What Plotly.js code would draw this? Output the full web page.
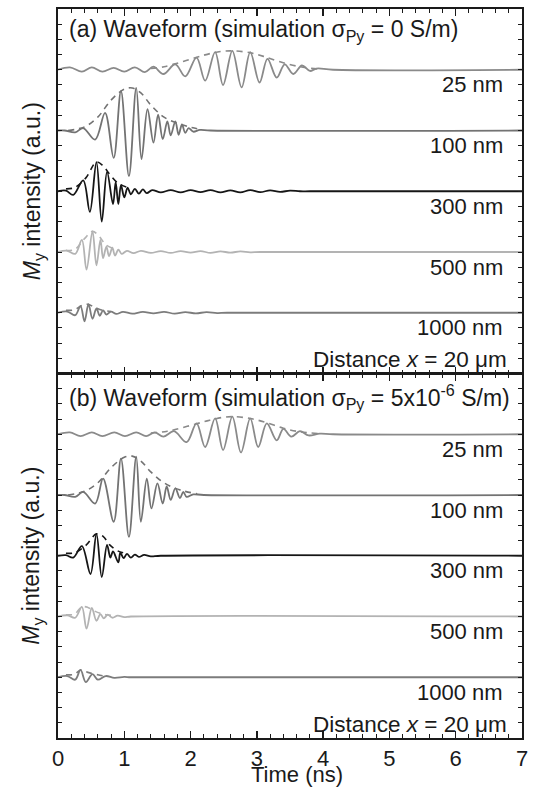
<!DOCTYPE html>
<html>
<head>
<meta charset="utf-8">
<script src="https://cdn.plot.ly/plotly-3.0.1.min.js"></script>
<style>html,body{margin:0;padding:0;background:#fff;}</style>
</head>
<body>
<div id="chart" style="width:533px;height:789px;"></div>
<script>
// ---------- data (extrema of each waveform, amplitude in a.u.) ----------
const thicknessLabels = ["25 nm", "100 nm", "300 nm", "500 nm", "1000 nm"];
const panelTitles = [
  "(a) Waveform (simulation σ<sub>Py</sub> = 0 S/m)",
  "(b) Waveform (simulation σ<sub>Py</sub> = 5x10<sup>-6</sup> S/m)"
];
const distanceLabel = "Distance <i>x</i> = 20 μm";
const xTitle = "Time (ns)";
const yTitle = "<i>M</i><sub>y</sub> intensity (a.u.)";

// panel (a)
const time25a = [0, 0.18, 0.36, 0.51, 0.67, 0.84, 1.00, 1.16, 1.31, 1.44, 1.59, 1.77, 1.92, 2.09, 2.22, 2.37, 2.49, 2.63, 2.77, 2.90, 3.04, 3.16, 3.30, 3.42, 3.55, 3.68, 3.80, 3.90, 4.15, 7];
const amp25a  = [0, 0.04, -0.03, 0.04, -0.03, 0.03, -0.03, 0.04, -0.04, 0.05, -0.07, 0.09, -0.11, 0.20, -0.18, 0.29, -0.25, 0.31, -0.29, 0.29, -0.21, 0.18, -0.13, 0.09, -0.07, 0.07, -0.02, 0.02, 0, 0];
const time100a = [0, 0.10, 0.26, 0.38, 0.56, 0.71, 0.84, 0.95, 1.07, 1.18, 1.26, 1.35, 1.44, 1.51, 1.58, 1.65, 1.70, 1.77, 1.82, 1.87, 1.92, 1.97, 2.04, 2.14, 2.30, 7];
const amp100a  = [0, 0, -0.03, 0.04, -0.15, 0.29, -0.45, 0.65, -0.75, 0.70, -0.47, 0.35, -0.20, 0.26, -0.14, 0.15, -0.08, 0.15, -0.07, 0.10, -0.04, 0.04, -0.02, 0.01, 0, 0];
const time300a = [0, 0.12, 0.23, 0.38, 0.48, 0.58, 0.66, 0.74, 0.83, 0.87, 0.91, 0.95, 1.00, 1.05, 1.10, 1.16, 1.22, 1.28, 1.34, 1.42, 1.55, 1.70, 1.85, 2.00, 2.15, 2.30, 2.45, 2.60, 2.75, 2.90, 3.05, 3.20, 3.35, 3.50, 3.65, 3.80, 7];
const amp300a  = [0, 0.01, -0.06, 0.18, -0.34, 0.48, -0.50, 0.32, -0.21, 0.15, -0.21, 0.10, -0.10, 0.06, -0.05, 0.04, -0.04, 0.03, -0.03, 0.02, -0.02, 0.02, -0.02, 0.02, -0.015, 0.02, -0.02, 0.015, -0.02, 0.02, -0.015, 0.015, -0.01, 0.01, 0, 0, 0];
const time500a = [0, 0.14, 0.26, 0.36, 0.43, 0.52, 0.58, 0.64, 0.68, 0.73, 0.77, 0.82, 0.86, 0.91, 0.96, 1.04, 1.14, 1.25, 1.40, 1.55, 1.70, 1.85, 2.00, 2.15, 2.30, 2.45, 2.60, 2.75, 2.90, 3.05, 7];
const amp500a  = [0, 0.02, -0.03, 0.20, -0.29, 0.34, -0.22, 0.20, -0.10, 0.09, -0.07, 0.07, -0.06, 0.04, -0.03, 0.02, -0.02, 0.02, -0.015, 0.015, -0.015, 0.015, -0.01, 0.015, -0.015, 0.01, -0.01, 0.01, -0.005, 0, 0];
const time1000a = [0, 0.14, 0.26, 0.34, 0.40, 0.46, 0.52, 0.58, 0.63, 0.68, 0.73, 0.80, 0.88, 0.98, 1.12, 1.28, 1.44, 1.60, 1.76, 1.92, 2.08, 2.24, 2.40, 2.55, 7];
const amp1000a  = [0, 0.02, -0.04, 0.11, -0.14, 0.14, -0.10, 0.07, -0.05, 0.04, -0.03, 0.02, -0.02, 0.015, -0.015, 0.015, -0.01, 0.015, -0.015, 0.01, -0.01, 0.01, -0.005, 0, 0];

// panel (b)
const time25b = [0, 0.18, 0.34, 0.51, 0.67, 0.85, 1.01, 1.18, 1.33, 1.46, 1.59, 1.75, 1.94, 2.09, 2.22, 2.37, 2.49, 2.63, 2.76, 2.90, 3.02, 3.15, 3.30, 3.40, 3.52, 3.65, 3.78, 3.95, 4.15, 7];
const amp25b  = [0, 0.03, -0.03, 0.03, -0.03, 0.03, -0.03, 0.03, -0.03, 0.03, -0.04, 0.05, -0.13, 0.18, -0.21, 0.26, -0.26, 0.29, -0.30, 0.26, -0.21, 0.18, -0.10, 0.09, -0.04, 0.05, -0.02, 0.01, 0, 0];
const time100b = [0, 0.10, 0.26, 0.38, 0.56, 0.68, 0.84, 0.95, 1.07, 1.18, 1.25, 1.34, 1.41, 1.50, 1.58, 1.64, 1.70, 1.77, 1.84, 1.89, 1.94, 2.04, 2.20, 7];
const amp100b  = [0, 0, -0.03, 0.05, -0.14, 0.27, -0.44, 0.60, -0.69, 0.63, -0.44, 0.27, -0.22, 0.19, -0.14, 0.14, -0.08, 0.11, -0.05, 0.05, -0.03, 0.01, 0, 0];
const time300b = [0, 0.12, 0.23, 0.36, 0.49, 0.58, 0.66, 0.74, 0.79, 0.83, 0.91, 0.94, 0.99, 1.04, 1.10, 1.16, 1.22, 1.30, 1.40, 1.55, 7];
const amp300b  = [0, 0.01, -0.03, 0.16, -0.30, 0.36, -0.35, 0.18, -0.03, 0.07, -0.11, 0.05, -0.04, 0.03, -0.03, 0.02, -0.02, 0.015, -0.01, 0, 0];
const time500b = [0, 0.14, 0.26, 0.36, 0.43, 0.51, 0.58, 0.64, 0.69, 0.75, 0.82, 0.90, 1.00, 1.10, 7];
const amp500b  = [0, 0.02, -0.02, 0.16, -0.20, 0.14, -0.07, 0.04, -0.03, 0.03, -0.02, 0.015, -0.01, 0, 0];
const time1000b = [0, 0.14, 0.26, 0.34, 0.42, 0.52, 0.60, 0.72, 0.85, 1.00, 1.10, 7];
const amp1000b  = [0, 0.02, -0.04, 0.12, -0.08, 0.05, -0.04, 0.02, -0.01, 0.005, 0, 0];

// dashed envelopes
const envTime25a = [1.40, 1.60, 1.90, 2.20, 2.45, 2.65, 2.90, 3.10, 3.35, 3.65, 3.95];
const envAmp25a  = [0.02, 0.05, 0.14, 0.24, 0.30, 0.31, 0.28, 0.22, 0.13, 0.05, 0.01];
const envTime100a = [0.15, 0.40, 0.60, 0.80, 1.00, 1.12, 1.25, 1.40, 1.60, 1.85, 2.10];
const envAmp100a  = [0.00, 0.06, 0.22, 0.50, 0.68, 0.70, 0.62, 0.42, 0.22, 0.10, 0.03];
const envTime300a = [0.12, 0.25, 0.42, 0.58, 0.68, 0.78, 0.90, 1.05];
const envAmp300a  = [0.04, 0.06, 0.22, 0.48, 0.42, 0.28, 0.14, 0.06];
const envTime500a = [0.12, 0.25, 0.40, 0.52, 0.62, 0.72, 0.85];
const envAmp500a  = [0.03, 0.04, 0.22, 0.34, 0.26, 0.12, 0.05];
const envTime1000a = [0.12, 0.25, 0.36, 0.45, 0.55, 0.68, 0.80];
const envAmp1000a  = [0.04, 0.05, 0.12, 0.14, 0.09, 0.04, 0.02];
const envTime25b = [1.40, 1.65, 1.95, 2.25, 2.50, 2.65, 2.90, 3.15, 3.40, 3.65, 3.95];
const envAmp25b  = [0.02, 0.05, 0.13, 0.22, 0.28, 0.29, 0.26, 0.19, 0.10, 0.04, 0.01];
const envTime100b = [0.15, 0.40, 0.60, 0.80, 1.00, 1.12, 1.25, 1.40, 1.60, 1.85, 2.10];
const envAmp100b  = [0.00, 0.06, 0.20, 0.45, 0.62, 0.64, 0.56, 0.38, 0.20, 0.08, 0.02];
const envTime300b = [0.12, 0.25, 0.42, 0.58, 0.68, 0.78, 0.90, 1.05];
const envAmp300b  = [0.04, 0.05, 0.17, 0.36, 0.32, 0.18, 0.08, 0.03];
const envTime500b = [0.12, 0.25, 0.36, 0.45, 0.55, 0.68, 0.80];
const envAmp500b  = [0.03, 0.04, 0.16, 0.15, 0.09, 0.04, 0.02];
const envTime1000b = [0.12, 0.25, 0.34, 0.45, 0.60, 0.75];
const envAmp1000b  = [0.04, 0.05, 0.12, 0.08, 0.04, 0.01];

// ---------- styling / placement (not data) ----------
const rowOffset = [5, 4, 3, 2, 1];              // vertical stacking of the traces
const rowColor  = ["#8a8a8a", "#737373", "#161616", "#b3b3b3", "#7c7c7c"];
const FONT = "Liberation Sans, Arial, Helvetica, sans-serif";

const panels = [
  { xa: "x2", ya: "y",
    waves: [[time25a, amp25a], [time100a, amp100a], [time300a, amp300a], [time500a, amp500a], [time1000a, amp1000a]],
    envs:  [[envTime25a, envAmp25a], [envTime100a, envAmp100a], [envTime300a, envAmp300a], [envTime500a, envAmp500a], [envTime1000a, envAmp1000a]] },
  { xa: "x", ya: "y2",
    waves: [[time25b, amp25b], [time100b, amp100b], [time300b, amp300b], [time500b, amp500b], [time1000b, amp1000b]],
    envs:  [[envTime25b, envAmp25b], [envTime100b, envAmp100b], [envTime300b, envAmp300b], [envTime500b, envAmp500b], [envTime1000b, envAmp1000b]] }
];

const traces = [];
panels.forEach(p => {
  p.envs.forEach((e, i) => {
    traces.push({
      x: e[0], y: e[1].map(v => v + rowOffset[i]), xaxis: p.xa, yaxis: p.ya,
      mode: "lines", line: { color: rowColor[i], width: 1.6, dash: "6px,5px", shape: "spline", smoothing: 1 },
      hoverinfo: "skip"
    });
  });
  p.waves.forEach((w, i) => {
    traces.push({
      x: w[0], y: w[1].map(v => v + rowOffset[i]), xaxis: p.xa, yaxis: p.ya,
      mode: "lines", line: { color: rowColor[i], width: 1.8, shape: "spline", smoothing: 1 },
      hoverinfo: "skip"
    });
  });
});

const axisCommon = {
  showline: true, linecolor: "#1a1a1a", linewidth: 1.6, mirror: "allticks",
  showgrid: false, zeroline: false, ticks: "inside", tickcolor: "#1a1a1a"
};
const xCommon = Object.assign({}, axisCommon, {
  range: [0, 7], tick0: 0, dtick: 1, ticklen: 7, tickwidth: 1.3,
  minor: { dtick: 0.2, ticks: "inside", ticklen: 4, tickwidth: 1, tickcolor: "#1a1a1a" }
});
const yCommon = Object.assign({}, axisCommon, {
  range: [0, 6], tick0: 0, dtick: 0.25, ticklen: 4, tickwidth: 1, showticklabels: false
});

const annotations = [];
[["y", 1, -21], ["y2", 0.5, -23]].forEach((a, k) => {
  annotations.push({ xref: "paper", yref: "paper", x: 0, y: a[1], xshift: 9, yshift: a[2],
    xanchor: "left", yanchor: "middle", showarrow: false, text: panelTitles[k], font: { size: 23 } });
  thicknessLabels.forEach((lab, i) => {
    annotations.push({ xref: "paper", yref: a[0], x: 1, y: rowOffset[i], xshift: -17, yshift: -15,
      xanchor: "right", yanchor: "middle", showarrow: false, text: lab, font: { size: 22 } });
  });
  annotations.push({ xref: "paper", yref: "paper", x: 1, y: a[1] === 1 ? 0.5 : 0, xshift: -13, yshift: 14,
    xanchor: "right", yanchor: "middle", showarrow: false, text: distanceLabel, font: { size: 22.5 } });
  annotations.push({ xref: "paper", yref: a[0], x: 0, y: 3, xshift: -25, yshift: 0,
    xanchor: "center", yanchor: "middle", textangle: -90, showarrow: false, text: yTitle, font: { size: 23 } });
});
annotations.push({ xref: "paper", yref: "paper", x: 0.5, y: 0, xshift: 7, yshift: -50,
  xanchor: "center", yanchor: "bottom", borderpad: 0, showarrow: false, text: xTitle, font: { size: 22 } });

const layout = {
  width: 533, height: 789,
  margin: { l: 58, r: 11, t: 9, b: 51 },
  paper_bgcolor: "#ffffff", plot_bgcolor: "#ffffff",
  showlegend: false,
  font: { family: FONT, size: 22, color: "#1a1a1a" },
  xaxis: Object.assign({}, xCommon, { domain: [0, 1], anchor: "y2", tickfont: { size: 22 }, ticklabelstandoff: 0 }),
  xaxis2: Object.assign({}, xCommon, { domain: [0, 1], anchor: "y", matches: "x", showticklabels: false }),
  yaxis: Object.assign({}, yCommon, { domain: [0.5, 1], anchor: "x2" }),
  yaxis2: Object.assign({}, yCommon, { domain: [0, 0.5], anchor: "x" }),
  annotations: annotations
};

Plotly.newPlot("chart", traces, layout, { staticPlot: true, displayModeBar: false });
</script>
</body>
</html>
